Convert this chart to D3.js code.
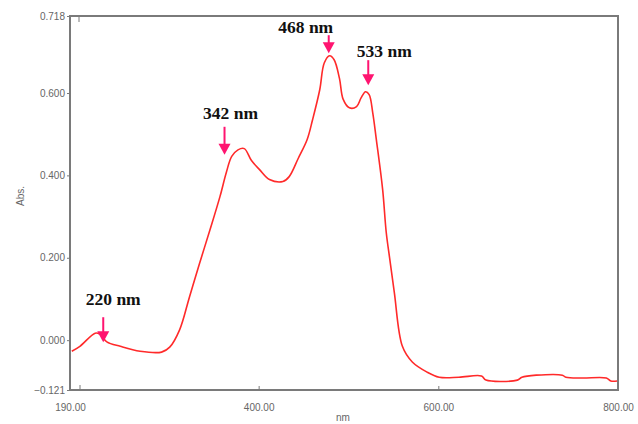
<!DOCTYPE html>
<html lang="en">
<head>
  <meta charset="UTF-8" />
  <title>UV-Vis Spectrum</title>
  <script src="https://d3js.org/d3.v7.min.js"></script>
  <style>
    body { margin: 0; background: #fff; }
    .tick-label { font-family: Arial, "Liberation Sans", sans-serif; font-size: 10px; fill: #666; }
    .peak-label { font-family: "Liberation Serif", "Times New Roman", serif; font-size: 17.5px; font-weight: bold; fill: #111; }
  </style>
</head>
<body>
  <svg id="chart" width="638" height="424"></svg>
  <script>
    // spectrum
    const wavelength = [192, 201, 218, 223, 231, 246, 268, 292, 301, 312, 323, 334, 346, 357, 364,
      370, 377, 384, 392, 401, 412, 427, 434, 444, 454, 460, 468, 473, 479, 484, 490, 494, 501, 509,
      514, 519, 523, 527, 531, 538, 542, 546, 551, 560, 571, 587, 601, 623, 648, 653, 688, 693, 709,
      738, 742, 760, 787, 792, 799];
    const absorbance = [-0.027, -0.015, 0.017, 0.015, -0.004, -0.015, -0.027, -0.029, -0.017, 0.025,
      0.105, 0.185, 0.269, 0.349, 0.407, 0.446, 0.462, 0.465, 0.436, 0.414, 0.390, 0.385,
      0.397, 0.441, 0.487, 0.535, 0.605, 0.646, 0.657, 0.651, 0.622, 0.585, 0.564, 0.567, 0.588,
      0.602, 0.596, 0.552, 0.487, 0.366, 0.262, 0.196, 0.116, -0.015, -0.053, -0.077, -0.090,
      -0.090, -0.087, -0.097, -0.097, -0.090, -0.085, -0.085, -0.090, -0.092, -0.092, -0.099, -0.099];

    const xTicks = [190, 400, 600, 800];
    const yTicks = [-0.121, 0, 0.2, 0.4, 0.6, 0.718];

    const peakLabels = ["220 nm", "342 nm", "468 nm", "533 nm"];
    const peakNm = [227, 362, 478, 522];
    const peakAbs = [-0.005, 0.45, 0.661, 0.612];

    const svg = d3.select("#chart");
    const mLeft = 70, mRight = 618, mTop = 16, mBottom = 390;

    const x = d3.scaleLinear().domain([190, 800]).range([mLeft, mRight]);
    // the original axis is not evenly spaced at the top, so the scale is piecewise
    const y = d3.scaleLinear().domain([-0.121, 0.6, 0.718]).range([mBottom, 93, mTop]);

    const axisColor = "#7a7a7a";

    // frame
    svg.append("path")
      .attr("d", `M${mLeft},${mTop}H${mRight}V${mBottom}H${mLeft}Z`)
      .attr("fill", "none")
      .attr("stroke", axisColor)
      .attr("stroke-width", 2);

    // y axis
    const yAxis = d3.axisLeft(y)
      .tickValues(yTicks)
      .tickSize(3)
      .tickPadding(2)
      .tickFormat(d3.format(".3f"));
    const gy = svg.append("g").attr("transform", `translate(${mLeft},0)`).call(yAxis);
    gy.select(".domain").remove();
    gy.selectAll(".tick line").attr("stroke", axisColor);
    gy.selectAll(".tick text").attr("class", "tick-label");
    gy.attr("font-family", null).attr("font-size", null);

    // x axis
    const xAxis = d3.axisBottom(x)
      .tickValues(xTicks)
      .tickSize(-4)
      .tickPadding(14)
      .tickFormat(d3.format(".2f"));
    const gx = svg.append("g").attr("transform", `translate(0,${mBottom})`).call(xAxis);
    gx.select(".domain").remove();
    gx.selectAll(".tick line").attr("stroke", axisColor);
    gx.selectAll(".tick text").attr("class", "tick-label");
    gx.attr("font-family", null).attr("font-size", null);

    // small marks near the left corners
    svg.append("line").attr("x1", mLeft + 9).attr("x2", mLeft + 9).attr("y1", mTop).attr("y2", mTop + 6)
      .attr("stroke", axisColor).attr("stroke-width", 1);
    svg.append("line").attr("x1", mLeft + 10).attr("x2", mLeft + 10).attr("y1", mBottom - 5).attr("y2", mBottom)
      .attr("stroke", axisColor).attr("stroke-width", 1);

    // axis titles
    svg.append("text").attr("class", "tick-label")
      .attr("x", 343).attr("y", 421).attr("text-anchor", "middle").text("nm");
    svg.append("text").attr("class", "tick-label")
      .attr("transform", "translate(24,196) rotate(-90)")
      .attr("text-anchor", "middle").text("Abs.");

    // spectrum line
    const data = wavelength.map((w, i) => [w, absorbance[i]]);
    const line = d3.line()
      .x(d => x(d[0]))
      .y(d => y(d[1]))
      .curve(d3.curveCatmullRom.alpha(0.5));
    svg.append("path")
      .datum(data)
      .attr("d", line)
      .attr("fill", "none")
      .attr("stroke", "#ff2a2a")
      .attr("stroke-width", 1.6);

    // peak annotations: arrow length, text offset from the arrow
    const arrowLen = [25, 28, 18, 25];
    const textDx = [10, 6, -23, 16];
    const textGap = [12, 8, 2, 3];
    const pink = "#ff1470";

    peakLabels.forEach((lab, i) => {
      const tx = x(peakNm[i]);
      const ty = y(peakAbs[i]);
      const ay = ty - arrowLen[i];
      svg.append("line")
        .attr("x1", tx).attr("x2", tx)
        .attr("y1", ay).attr("y2", ty - 8)
        .attr("stroke", pink).attr("stroke-width", 2);
      svg.append("path")
        .attr("d", `M${tx - 6},${ty - 11}L${tx + 6},${ty - 11}L${tx},${ty}Z`)
        .attr("fill", pink);
      svg.append("text")
        .attr("class", "peak-label")
        .attr("x", tx + textDx[i])
        .attr("y", ay - textGap[i])
        .attr("text-anchor", "middle")
        .text(lab);
    });
  </script>
</body>
</html>
